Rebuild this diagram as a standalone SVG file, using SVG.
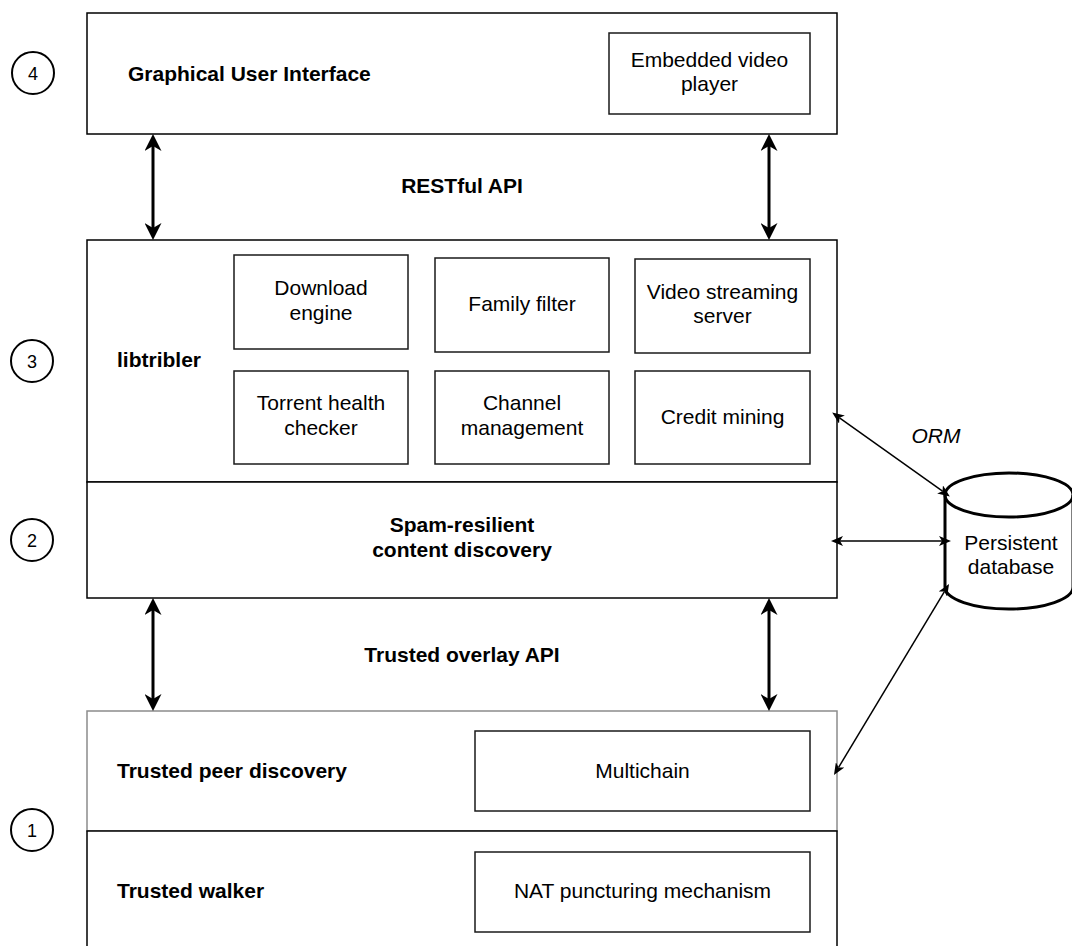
<svg xmlns="http://www.w3.org/2000/svg" width="1072" height="946" viewBox="0 0 1072 946">
<style>
  text { font-family: "Liberation Sans", Arial, sans-serif; font-size: 21px; fill: #000; }
  .b { font-weight: bold; }
  .c { text-anchor: middle; }
  .i { font-style: italic; }
  .num { font-size: 18px; text-anchor: middle; }
  .box { fill: #fff; stroke: #000; stroke-width: 1.5; }
  .inner { fill: #fff; stroke: #1a1a1a; stroke-width: 1.5; }
  .grey { fill: #fff; stroke: #8c8c8c; stroke-width: 1.5; }
  .circ { fill: #fff; stroke: #000; stroke-width: 2; }
  .thick { fill: none; stroke: #000; stroke-width: 3; marker-start: url(#ah); marker-end: url(#ah); }
  .thin { fill: none; stroke: #000; stroke-width: 1.5; marker-start: url(#as); marker-end: url(#as); }
</style>
<defs>
  <marker id="ah" markerUnits="userSpaceOnUse" viewBox="0 0 17 17" markerWidth="17" markerHeight="17" refX="5" refY="8.5" orient="auto-start-reverse">
    <path d="M0,0 L17,8.5 L0,17 L5,8.5 Z" fill="#000"/>
  </marker>
  <marker id="as" markerUnits="userSpaceOnUse" viewBox="0 0 12 10" markerWidth="12" markerHeight="10" refX="3" refY="5" orient="auto-start-reverse">
    <path d="M0,0 L12,5 L0,10 L3,5 Z" fill="#000"/>
  </marker>
</defs>
<rect width="1072" height="946" fill="#fff"/>

<g id="layer-labels">
  <g id="circle-4"><circle class="circ" cx="33" cy="73" r="21"/><text class="num" x="33" y="80">4</text></g>
  <g id="circle-3"><circle class="circ" cx="32" cy="361" r="21"/><text class="num" x="32" y="368">3</text></g>
  <g id="circle-2"><circle class="circ" cx="32" cy="540" r="21"/><text class="num" x="32" y="547">2</text></g>
  <g id="circle-1"><circle class="circ" cx="32" cy="830" r="21"/><text class="num" x="32" y="837">1</text></g>
</g>

<g id="gui">
  <rect class="box" x="87" y="13" width="750" height="121"/>
  <text class="b" x="128" y="81">Graphical User Interface</text>
</g>
<g id="video-player">
  <rect class="inner" x="609" y="33" width="201" height="81"/>
  <text class="c" x="709.5" y="67">Embedded video</text>
  <text class="c" x="709.5" y="91">player</text>
</g>

<g id="libtribler">
  <rect class="box" x="87" y="240" width="750" height="242"/>
  <text class="b" x="117" y="367">libtribler</text>
</g>
<g id="download-engine">
  <rect class="inner" x="234" y="255" width="174" height="94"/>
  <text class="c" x="321" y="295">Download</text>
  <text class="c" x="321" y="320">engine</text>
</g>
<g id="family-filter">
  <rect class="inner" x="435" y="258" width="174" height="94"/>
  <text class="c" x="522" y="311">Family filter</text>
</g>
<g id="video-streaming">
  <rect class="inner" x="635" y="259" width="175" height="94"/>
  <text class="c" x="722.5" y="299">Video streaming</text>
  <text class="c" x="722.5" y="323">server</text>
</g>
<g id="torrent-health">
  <rect class="inner" x="234" y="371" width="174" height="93"/>
  <text class="c" x="321" y="410">Torrent health</text>
  <text class="c" x="321" y="435">checker</text>
</g>
<g id="channel-management">
  <rect class="inner" x="435" y="371" width="174" height="93"/>
  <text class="c" x="522" y="410">Channel</text>
  <text class="c" x="522" y="435">management</text>
</g>
<g id="credit-mining">
  <rect class="inner" x="635" y="371" width="175" height="93"/>
  <text class="c" x="722.5" y="424">Credit mining</text>
</g>

<g id="spam-resilient">
  <rect class="box" x="87" y="482" width="750" height="116"/>
  <text class="b c" x="462" y="532">Spam-resilient</text>
  <text class="b c" x="462" y="557">content discovery</text>
</g>

<g id="trusted-peer-discovery">
  <rect class="grey" x="87" y="711" width="750" height="120"/>
  <text class="b" x="117" y="778">Trusted peer discovery</text>
</g>
<g id="multichain">
  <rect class="inner" x="475" y="731" width="335" height="80"/>
  <text class="c" x="642.5" y="778">Multichain</text>
</g>
<g id="trusted-walker">
  <rect class="box" x="87" y="831" width="750" height="130"/>
  <text class="b" x="117" y="898">Trusted walker</text>
</g>
<g id="nat-puncturing">
  <rect class="inner" x="475" y="852" width="335" height="80"/>
  <text class="c" x="642.5" y="898">NAT puncturing mechanism</text>
</g>

<g id="database">
  <path d="M945,495 A64,22 0 0 1 1073,495 L1073,587 A64,22 0 0 1 945,587 Z" fill="#fff" stroke="#000" stroke-width="3"/>
  <path d="M945,495 A64,22 0 0 0 1073,495" fill="none" stroke="#000" stroke-width="3"/>
  <text class="c" x="1011" y="550">Persistent</text>
  <text class="c" x="1011" y="574">database</text>
</g>

<g id="connectors">
  <line class="thick" x1="153" y1="146" x2="153" y2="228"/>
  <line class="thick" x1="769" y1="146" x2="769" y2="228"/>
  <line class="thick" x1="153" y1="610" x2="153" y2="699"/>
  <line class="thick" x1="769" y1="610" x2="769" y2="699"/>
  <line class="thin" x1="839.5" y1="417.8" x2="942.5" y2="491.2"/>
  <line class="thin" x1="840" y1="541" x2="942" y2="541"/>
  <line class="thin" x1="944.4" y1="591.6" x2="838.6" y2="767.4"/>
  <text class="b c" x="462" y="193">RESTful API</text>
  <text class="b c" x="462" y="662">Trusted overlay API</text>
  <text class="i c" x="936" y="443">ORM</text>
</g>
</svg>
